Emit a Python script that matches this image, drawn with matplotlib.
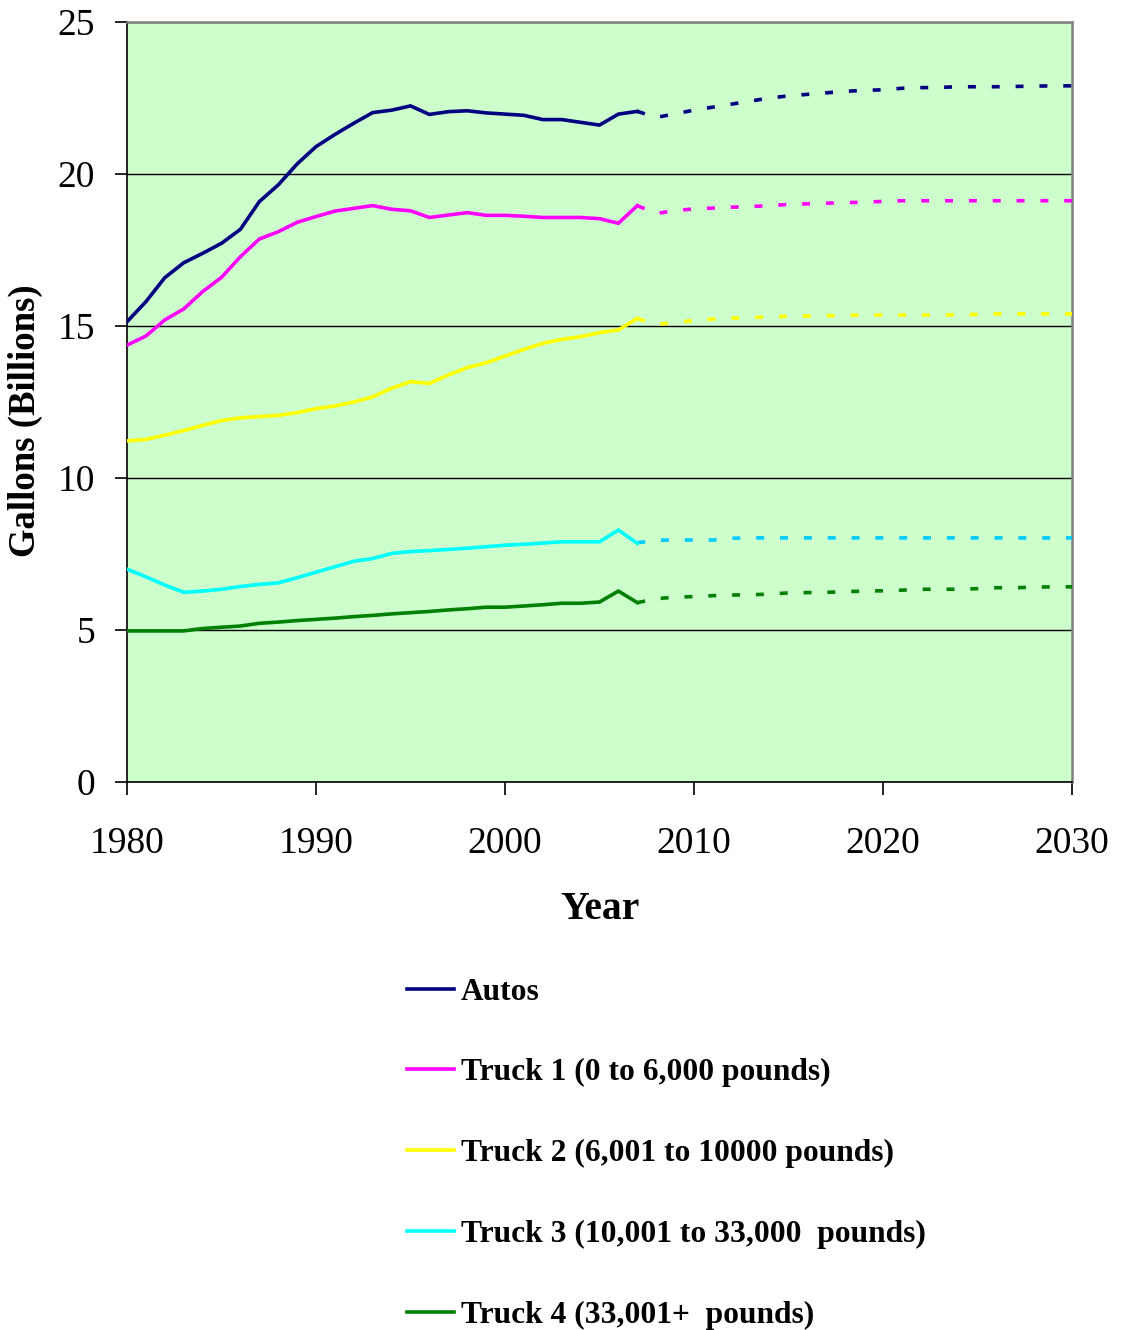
import matplotlib
matplotlib.use("Agg")
import matplotlib.pyplot as plt
from matplotlib.lines import Line2D

plt.rcParams['font.family'] = ['Liberation Serif', 'DejaVu Serif']

# Historical fuel use, 1980-2007 (billions of gallons)
hist_years = list(range(1980, 2008))
autos_hist = [15.14, 15.80, 16.59, 17.08, 17.39, 17.72, 18.18, 19.09, 19.64, 20.33,
              20.90, 21.30, 21.67, 22.02, 22.10, 22.24, 21.96, 22.05, 22.08, 22.01,
              21.97, 21.93, 21.79, 21.79, 21.70, 21.61, 21.97, 22.06]
truck1_hist = [14.37, 14.67, 15.20, 15.56, 16.13, 16.60, 17.28, 17.86, 18.10, 18.41,
               18.60, 18.78, 18.87, 18.96, 18.84, 18.79, 18.57, 18.65, 18.73, 18.64,
               18.64, 18.61, 18.57, 18.57, 18.57, 18.53, 18.38, 18.96]
truck2_hist = [11.22, 11.27, 11.41, 11.56, 11.73, 11.89, 11.98, 12.02, 12.06, 12.15,
               12.28, 12.37, 12.50, 12.67, 12.95, 13.17, 13.11, 13.39, 13.63, 13.79,
               14.01, 14.23, 14.43, 14.56, 14.65, 14.78, 14.87, 15.25]
truck3_hist = [7.00, 6.75, 6.48, 6.24, 6.28, 6.34, 6.43, 6.50, 6.55, 6.72,
               6.90, 7.08, 7.26, 7.35, 7.52, 7.58, 7.61, 7.65, 7.69, 7.74,
               7.79, 7.82, 7.86, 7.90, 7.90, 7.90, 8.29, 7.85]
truck4_hist = [4.97, 4.97, 4.97, 4.97, 5.05, 5.09, 5.13, 5.22, 5.26, 5.31,
               5.35, 5.39, 5.44, 5.48, 5.53, 5.57, 5.61, 5.66, 5.70, 5.75,
               5.75, 5.79, 5.83, 5.88, 5.88, 5.92, 6.28, 5.90]

# Projections, 2007-2030
proj_years = list(range(2007, 2031))
autos_proj = [22.06, 21.86, 21.98, 22.10, 22.20, 22.30, 22.40, 22.50, 22.57, 22.62,
              22.67, 22.72, 22.75, 22.77, 22.82, 22.84, 22.85, 22.87, 22.87, 22.87,
              22.88, 22.89, 22.90, 22.90]
truck1_proj = [18.96, 18.70, 18.80, 18.85, 18.88, 18.91, 18.93, 18.96, 19.00, 19.02,
               19.04, 19.06, 19.07, 19.10, 19.12, 19.12, 19.12, 19.12, 19.12, 19.12,
               19.12, 19.12, 19.12, 19.12]
truck2_proj = [15.25, 15.05, 15.12, 15.18, 15.23, 15.26, 15.28, 15.30, 15.32, 15.33,
               15.34, 15.35, 15.36, 15.36, 15.36, 15.36, 15.36, 15.37, 15.38, 15.40,
               15.40, 15.40, 15.40, 15.40]
truck3_proj = [7.87, 7.95, 7.96, 7.96, 7.96, 8.02, 8.03, 8.03, 8.03, 8.03,
               8.03, 8.03, 8.03, 8.03, 8.03, 8.03, 8.03, 8.03, 8.03, 8.03,
               8.03, 8.03, 8.03, 8.03]
truck4_proj = [5.90, 6.03, 6.08, 6.10, 6.13, 6.15, 6.16, 6.18, 6.22, 6.23,
               6.24, 6.26, 6.28, 6.29, 6.31, 6.34, 6.34, 6.34, 6.36, 6.39,
               6.39, 6.41, 6.42, 6.42]

labels = ["Autos", "Truck 1 (0 to 6,000 pounds)", "Truck 2 (6,001 to 10000 pounds)",
          "Truck 3 (10,001 to 33,000  pounds)", "Truck 4 (33,001+  pounds)"]
solid_colors = ["#000080", "#FF00FF", "#FFFF00", "#00FFFF", "#008000"]
dash_colors = ["#000080", "#FF00FF", "#FFFF00", "#00CCFF", "#008000"]

x_ticks = [1980, 1990, 2000, 2010, 2020, 2030]
y_ticks = [0, 5, 10, 15, 20, 25]

hist = [autos_hist, truck1_hist, truck2_hist, truck3_hist, truck4_hist]
proj = [autos_proj, truck1_proj, truck2_proj, truck3_proj, truck4_proj]

fig = plt.figure(figsize=(11.21, 13.30), dpi=100)
ax = fig.add_axes([127 / 1121, 1 - 782 / 1330, (1072 - 127) / 1121, (782 - 22) / 1330])
ax.set_facecolor("#CCFFCC")

LW = 2.6
for h, p, c_s, c_d in zip(hist, proj, solid_colors, dash_colors):
    ax.plot(proj_years, p, color=c_d, lw=LW, ls=(0, (2.2, 4.4)),
            solid_capstyle='butt', dash_capstyle='butt', zorder=3)
    ax.plot(hist_years, h, color=c_s, lw=LW, solid_joinstyle='miter', zorder=4)

ax.set_xlim(1980, 2030)
ax.set_ylim(0, 25)
ax.set_xticks(x_ticks)
ax.set_yticks(y_ticks)
ax.grid(axis='y', color='black', lw=1.0, zorder=1)
ax.set_axisbelow(True)

for side in ("left", "bottom"):
    ax.spines[side].set_color("black")
    ax.spines[side].set_linewidth(1.2)
for side in ("top", "right"):
    ax.spines[side].set_color("#808080")
    ax.spines[side].set_linewidth(1.8)

ax.tick_params(axis='both', direction='out', length=9, width=1.2, color='black',
               labelsize=27)
ax.tick_params(axis='y', pad=14)
ax.tick_params(axis='x', pad=23)

ax.set_xlabel("Year", fontsize=28.5, fontweight='bold', labelpad=22)
ax.set_ylabel("Gallons (Billions)", fontsize=26.5, fontweight='bold')
ax.yaxis.set_label_coords(-0.0889, 0.475)

handles = [Line2D([0], [0], color=c, lw=LW) for c in solid_colors]
fig.legend(handles, labels, loc='upper left', bbox_to_anchor=(394 / 1121, 1 - 965 / 1330),
           frameon=False, prop={'size': 22.7, 'weight': 'bold'},
           handlelength=1.49, handletextpad=0.22, labelspacing=1.64, borderaxespad=0)

fig.savefig("out.png", dpi=100)
